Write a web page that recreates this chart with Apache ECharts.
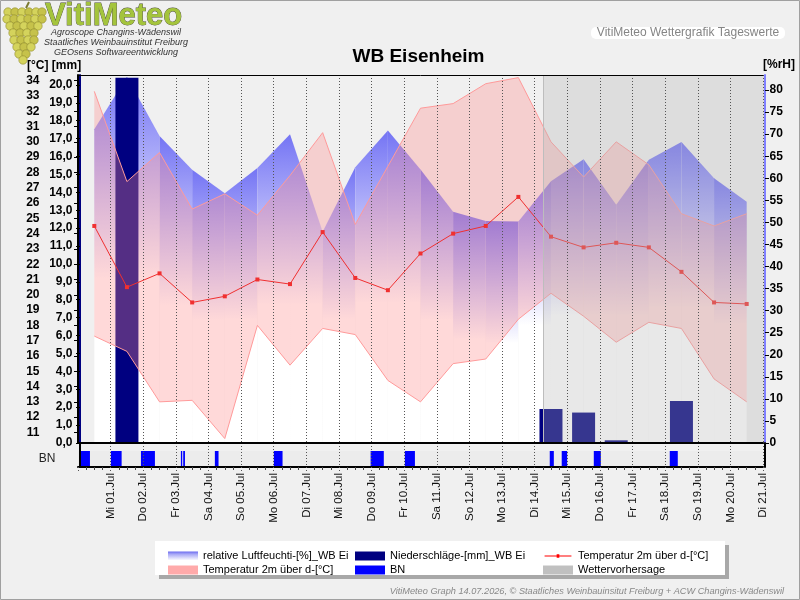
<!DOCTYPE html>
<html><head><meta charset="utf-8">
<script src="https://cdn.jsdelivr.net/npm/echarts@6/dist/echarts.min.js"></script>
<style>html,body{margin:0;padding:0;background:#f0f0f0}#c{width:800px;height:600px}</style>
</head><body><div id="c"></div>
<script>
// ---- data (days counted from 30.06 00:00; daily values belong to noon) ----
const dayLabels = ['Mi 01.Jul','Do 02.Jul','Fr 03.Jul','Sa 04.Jul','So 05.Jul','Mo 06.Jul','Di 07.Jul','Mi 08.Jul','Do 09.Jul','Fr 10.Jul','Sa 11.Jul','So 12.Jul','Mo 13.Jul','Di 14.Jul','Mi 15.Jul','Do 16.Jul','Fr 17.Jul','Sa 18.Jul','So 19.Jul','Mo 20.Jul','Di 21.Jul'];
const dates = ['30.06','01.07','02.07','03.07','04.07','05.07','06.07','07.07','08.07','09.07','10.07','11.07','12.07','13.07','14.07','15.07','16.07','17.07','18.07','19.07','20.07'];
const humidity = [71.1, 83.0, 69.6, 61.9, 56.6, 62.3, 70.0, 47.9, 62.5, 70.8, 62.0, 52.4, 50.3, 50.2, 59.3, 64.3, 54.0, 64.2, 68.2, 60.0, 54.7];
const tempMax  = [33.3, 27.4, 29.3, 25.6, 26.6, 25.2, 27.8, 30.6, 24.6, 28.4, 32.2, 32.5, 33.8, 34.2, 30.0, 27.7, 30.0, 28.5, 25.3, 24.5, 25.3];
const tempMin  = [17.3, 16.3, 13.0, 13.1, 10.6, 18.0, 15.4, 17.8, 17.4, 14.4, 13.0, 15.5, 15.8, 18.4, 20.1, 18.6, 16.9, 18.2, 17.8, 14.5, 13.0];
const tempMean = [24.5, 20.5, 21.4, 19.5, 19.9, 21.0, 20.7, 24.1, 21.1, 20.3, 22.7, 24.0, 24.5, 26.4, 23.8, 23.1, 23.4, 23.1, 21.5, 19.5, 19.4];
const precip   = [0, 20.4, 0, 0, 0, 0, 0, 0, 0, 0, 0, 0, 0, 0, 1.9, 1.7, 0.15, 0, 2.35, 0, 0];
const bnStartH = [2.2, 24.2, 46.3, 75.7, 77.4, 100.7, 144.1, 215.3, 240.5, 347.1, 355.9, 379.5, 435.4];
const bnEndH   = [8.8, 32.1, 56.6, 76.7, 78.7, 103.4, 150.5, 225.0, 247.9, 350.1, 359.9, 384.7, 441.3];
const forecastStartH = 342.2;
const tempTicks = [11,12,13,14,15,16,17,18,19,20,21,22,23,24,25,26,27,28,29,30,31,32,33,34];
const mmTicks = [0,1,2,3,4,5,6,7,8,9,10,11,12,13,14,15,16,17,18,19,20];
const humTicks = [0,5,10,15,20,25,30,35,40,45,50,55,60,65,70,75,80];

const humName = 'relative Luftfeuchti-[%]_WB Ei';
const precName = 'Niederschläge-[mm]_WB Ei';
const bandName = 'Temperatur 2m über d-[°C]';
const meanName = 'Temperatur 2m über d-[°C] ';
const FF = '"Liberation Sans", Arial, Helvetica, sans-serif';

const noon = i => i + 0.5;
const humSegs = humidity.slice(0, -1).map((h, i) => [noon(i), h, noon(i + 1), humidity[i + 1]]);
const bandData = tempMax.map((v, i) => [noon(i), tempMin[i], v]);
const humGrad = {type:'linear', x:0, y:0, x2:0, y2:1, colorStops:[
  {offset:0, color:'rgb(116,116,244)'}, {offset:0.55, color:'rgb(255,255,255)'}, {offset:1, color:'rgb(255,255,255)'}]};
const legendHumGrad = {type:'linear', x:0, y:0, x2:0, y2:1, colorStops:[
  {offset:0, color:'#6a6af0'}, {offset:0.3, color:'#a8a8f6'}, {offset:1, color:'#ffffff'}]};

const dotted = {color:'#555', type:[1,2], width:1};

// grape logo decoration
const grapeRows = [[12,[8,15,22,29,36,42]],[19,[6,13,20,27,34,41]],[26,[10,17,24,31,38]],[33,[12,19,26,33]],[40,[14,21,28,34]],[47,[16,23,30]],[54,[19,26]],[60,[23]]];
const grapes = [];
grapeRows.forEach(([y, xs]) => xs.forEach((x, k) => grapes.push({type:'circle', shape:{cx:x + (y % 2), cy:y, r:4.2},
  style:{fill:(k % 2 ? '#c6c24a' : '#d4d35c'), stroke:'#8e8a2c', lineWidth:0.6}})));
grapes.push({type:'line', shape:{x1:26, y1:8, x2:29, y2:2}, style:{stroke:'#7a7a30', lineWidth:2}});

const chart = echarts.init(document.getElementById('c'));
chart.setOption({
  animation:false,
  backgroundColor:'#f0f0f0',
  textStyle:{fontFamily:FF},
  grid:[{left:78, right:37, top:75, height:368}, {left:78, right:37, top:443, height:24}],
  xAxis:[
    {type:'value', gridIndex:0, min:0, max:21, interval:1, z:10,
     axisLine:{show:true, onZero:false, lineStyle:{color:'#000', width:2}},
     axisTick:{show:false}, axisLabel:{show:false},
     splitLine:{show:true, showMinLine:false, lineStyle:dotted}},
    {type:'value', gridIndex:1, min:0, max:21, interval:1, z:10, position:'bottom',
     axisLine:{show:true, onZero:false, lineStyle:{color:'#000', width:2}},
     axisTick:{show:true, length:5, lineStyle:dotted},
     minorTick:{show:true, splitNumber:4, length:3, lineStyle:{color:'#444', width:1}},
     axisLabel:{rotate:90, margin:6, fontSize:11.5, color:'#111', fontFamily:FF,
       formatter:v => (v >= 1 && v <= dayLabels.length) ? dayLabels[v - 1] : ''},
     splitLine:{show:true, showMinLine:false, lineStyle:dotted}},
    {type:'value', gridIndex:0, min:0, max:21, position:'top', z:10,
     axisLine:{show:true, onZero:false, lineStyle:{color:'#000', width:1}},
     axisTick:{show:false}, axisLabel:{show:false}, splitLine:{show:false}}
  ],
  yAxis:[
    {type:'value', gridIndex:0, position:'left', offset:32, min:10.31, max:34.37, z:10,
     axisLine:{show:true, lineStyle:{color:'#000', width:2}},
     axisTick:{show:true, length:4, customValues:tempTicks, lineStyle:{color:'#000'}},
     axisLabel:{customValues:tempTicks, fontWeight:'bold', fontSize:12, color:'#000', margin:6.5, fontFamily:FF},
     splitLine:{show:false}},
    {type:'value', gridIndex:0, position:'left', offset:-2, min:0, max:20.55, z:10,
     axisLine:{show:true, lineStyle:{color:'#000080', width:2}},
     axisTick:{show:true, length:4, customValues:mmTicks, lineStyle:{color:'#000'}},
     axisLabel:{customValues:mmTicks, fontWeight:'bold', fontSize:12, color:'#000', margin:7.5, fontFamily:FF,
       formatter:v => v.toFixed(1).replace('.', ',')},
     splitLine:{show:false}},
    {type:'value', gridIndex:0, position:'right', offset:2, min:0, max:83.4, z:10,
     axisLine:{show:true, lineStyle:{color:'#8080ff', width:2}},
     axisTick:{show:true, length:4, customValues:humTicks, lineStyle:{color:'#000'}},
     axisLabel:{customValues:humTicks, fontWeight:'bold', fontSize:12, color:'#000', margin:4.5, fontFamily:FF},
     splitLine:{show:false}},
    {type:'value', gridIndex:1, position:'left', offset:-2, min:0, max:1.5, z:10,
     axisLine:{show:true, lineStyle:{color:'#000', width:2}}, axisTick:{show:false}, axisLabel:{show:false}, splitLine:{show:false}},
    {type:'value', gridIndex:1, position:'right', offset:2, min:0, max:1.5, z:10,
     axisLine:{show:true, lineStyle:{color:'#000', width:2}}, axisTick:{show:false}, axisLabel:{show:false}, splitLine:{show:false}}
  ],
  legend:[
    {left:163, top:545, orient:'vertical', itemWidth:30, itemHeight:9, itemGap:2, selectedMode:false,
     textStyle:{fontSize:11, lineHeight:12, color:'#000', fontFamily:FF},
     data:[{name:humName, icon:'rect', itemStyle:{color:legendHumGrad}}, {name:bandName, icon:'rect', itemStyle:{color:'#ffaaaa'}}]},
    {left:350, top:545, orient:'vertical', itemWidth:30, itemHeight:9, itemGap:2, selectedMode:false,
     textStyle:{fontSize:11, lineHeight:12, color:'#000', fontFamily:FF},
     data:[{name:precName, icon:'rect', itemStyle:{color:'#000080'}}, {name:'BN', icon:'rect', itemStyle:{color:'#0000ff'}}]},
    {left:538, top:545, orient:'vertical', itemWidth:30, itemHeight:9, itemGap:2, selectedMode:false,
     textStyle:{fontSize:11, lineHeight:12, color:'#000', fontFamily:FF},
     data:[{name:meanName, icon:'path://M0,0h0.05v0.05h-0.05z M0,10h0.05v0.05h-0.05z M0,4.5H30V5.5H0Z M13.5,3H16.5V7H13.5Z', itemStyle:{color:'#ff0000'}},
           {name:'Wettervorhersage', icon:'rect', itemStyle:{color:'#c0c0c0'}}]}
  ],
  series:[
    {type:'custom', name:humName, xAxisIndex:0, yAxisIndex:2, z:2, silent:true,
     encode:{x:[0,2], y:[1,3]}, data:humSegs, itemStyle:{color:'#8080ff'},
     renderItem:(params, api) => {
       const p0 = api.coord([api.value(0), api.value(1)]);
       const p1 = api.coord([api.value(2), api.value(3)]);
       const b1 = api.coord([api.value(2), 0]);
       const b0 = api.coord([api.value(0), 0]);
       return {type:'polygon', shape:{points:[p0, p1, b1, b0]}, style:{fill:humGrad}};
     }},
    {type:'bar', name:precName, xAxisIndex:0, yAxisIndex:1, z:3, barWidth:23, silent:true,
     data:precip.map((v, i) => [noon(i), v]), itemStyle:{color:'#000080'}},
    {type:'custom', name:bandName, xAxisIndex:0, yAxisIndex:0, z:4, silent:true,
     encode:{x:0, y:[1,2]}, data:bandData, itemStyle:{color:'#ffaaaa'},
     renderItem:(params, api) => {
       if (params.dataIndexInside !== 0) return null;
       const n = params.dataInsideLength;
       const up = [], lo = [];
       for (let j = 0; j < n; j++) {
         up.push(api.coord([api.value(0, j), api.value(2, j)]));
         lo.push(api.coord([api.value(0, j), api.value(1, j)]));
       }
       return {type:'group', children:[
         {type:'polygon', shape:{points:up.concat(lo.slice().reverse())}, style:{fill:'rgba(255,140,140,0.33)'}},
         {type:'polyline', shape:{points:up}, style:{stroke:'#ff9a9a', lineWidth:1, fill:null}},
         {type:'polyline', shape:{points:lo}, style:{stroke:'#ff9a9a', lineWidth:1, fill:null}}
       ]};
     }},
    {type:'line', name:meanName, xAxisIndex:0, yAxisIndex:0, z:5, symbol:'rect', symbolSize:4, silent:true,
     data:tempMean.map((v, i) => [noon(i), v]), lineStyle:{color:'#f03030', width:1}, itemStyle:{color:'#f03030'}},
    {type:'custom', name:'Wettervorhersage', xAxisIndex:0, yAxisIndex:1, z:8, silent:true,
     encode:{x:[0,1]}, data:[[forecastStartH / 24, 21]], itemStyle:{color:'#c0c0c0'},
     renderItem:(params, api) => {
       const cs = params.coordSys;
       const x0 = Math.round(api.coord([api.value(0), 0])[0]) + 0.5;
       return {type:'rect', shape:{x:x0, y:cs.y + 0.5, width:cs.x + cs.width + 2 - x0, height:cs.height},
         style:{fill:'rgba(180,180,180,0.3)', stroke:'#bdbdbd', lineWidth:1}};
     }},
    {type:'custom', name:'_bnbg', xAxisIndex:1, yAxisIndex:3, z:1, silent:true,
     encode:{x:[0,1]}, data:[[0, 21]],
     renderItem:(params, api) => {
       const cs = params.coordSys;
       const yTop = api.coord([0, 1])[1];
       return {type:'rect', shape:{x:cs.x, y:yTop, width:cs.width + 2, height:cs.y + cs.height - yTop}, style:{fill:'#ececec'}};
     }},
    {type:'custom', name:'BN', xAxisIndex:1, yAxisIndex:3, z:3, silent:true,
     encode:{x:[0,1]}, data:bnStartH.map((s, i) => [s / 24, bnEndH[i] / 24]), itemStyle:{color:'#0000ff'},
     renderItem:(params, api) => {
       const a = api.coord([api.value(0), 1]);
       const b = api.coord([api.value(1), 0]);
       return {type:'rect', shape:{x:a[0], y:a[1], width:Math.max(1, b[0] - a[0]), height:b[1] - a[1]}, style:{fill:'#0000ff'}};
     }}
  ],
  graphic:[
    {type:'rect', z:-1, shape:{x:0.5, y:0.5, width:799, height:599}, style:{fill:'none', stroke:'#a0a0a0', lineWidth:1}},
    {type:'group', children:grapes},
    {type:'text', x:45, y:16, style:{text:'VitiMeteo', font:'bold 31px ' + FF, fill:'#a4c43c', stroke:'#4d4d3a', lineWidth:0.8,
      textVerticalAlign:'middle', textShadowColor:'rgba(0,0,0,0.45)', textShadowOffsetX:1.5, textShadowOffsetY:1.5, textShadowBlur:0}},
    {type:'text', x:116, y:32, style:{text:'Agroscope Changins-Wädenswil', font:'italic 9px ' + FF, fill:'#333', textAlign:'center', textVerticalAlign:'middle'}},
    {type:'text', x:116, y:42.5, style:{text:'Staatliches Weinbauinstitut Freiburg', font:'italic 9px ' + FF, fill:'#333', textAlign:'center', textVerticalAlign:'middle'}},
    {type:'text', x:116, y:52, style:{text:'GEOsens Softwareentwicklung', font:'italic 9px ' + FF, fill:'#333', textAlign:'center', textVerticalAlign:'middle'}},
    {type:'rect', shape:{x:591, y:27, width:194, height:12, r:5}, style:{fill:'#ffffff'}},
    {type:'text', x:688, y:33, style:{text:'VitiMeteo Wettergrafik Tageswerte', font:'12px ' + FF, fill:'#858585', textAlign:'center', textVerticalAlign:'middle'}},
    {type:'text', x:418.5, y:57, style:{text:'WB Eisenheim', font:'bold 19px ' + FF, fill:'#000', textAlign:'center', textVerticalAlign:'middle'}},
    {type:'text', x:27, y:66, style:{text:'[°C] [mm]', font:'bold 12px ' + FF, fill:'#000', textVerticalAlign:'middle'}},
    {type:'text', x:763, y:65, style:{text:'[%rH]', font:'bold 12px ' + FF, fill:'#000', textVerticalAlign:'middle'}},
    {type:'text', x:47, y:459, style:{text:'BN', font:'12px ' + FF, fill:'#222', textAlign:'center', textVerticalAlign:'middle'}},
    {type:'rect', z:0, shape:{x:155, y:541, width:570, height:34}, style:{fill:'#fff', shadowColor:'#a8a8a8', shadowOffsetX:4, shadowOffsetY:4, shadowBlur:0}},
    {type:'text', x:784, y:591, style:{text:'VitiMeteo Graph 14.07.2026, © Staatliches Weinbauinsitut Freiburg + ACW Changins-Wädenswil', font:'italic 9.2px ' + FF, fill:'#888', textAlign:'right', textVerticalAlign:'middle'}}
  ]
});
</script></body></html>
